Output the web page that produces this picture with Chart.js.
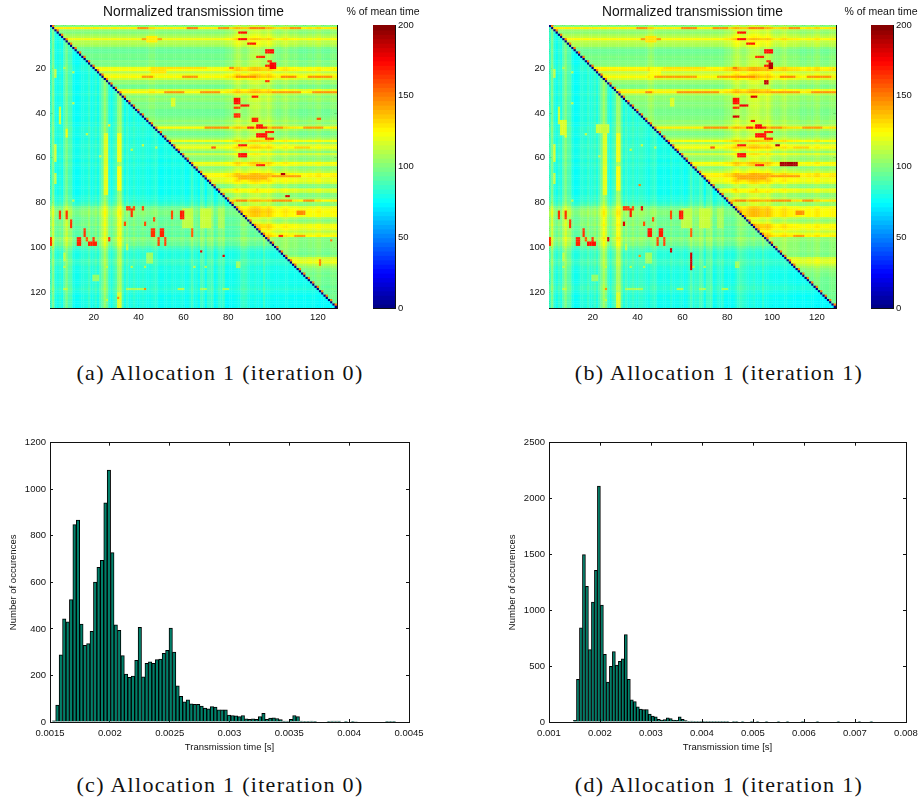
<!DOCTYPE html>
<html>
<head>
<meta charset="utf-8">
<script src="https://cdn.jsdelivr.net/npm/chart.js@4"></script>
<style>
  html, body { margin: 0; padding: 0; background: #fff; }
  #page { position: relative; width: 924px; height: 804px; overflow: hidden; }
  canvas { position: absolute; }
  #heatA, #heatB { filter: blur(0.45px); }
  .caption { position: absolute; font-family: "Liberation Serif", serif; font-size: 22px; letter-spacing: 1.3px; color: #111; white-space: nowrap; transform: translateX(-50%); }
</style>
</head>
<body>
<div id="page">
  <canvas id="heatA" width="345" height="335" style="left:0;top:0"></canvas>
  <canvas id="barA" width="80" height="320" style="left:343px;top:0"></canvas>
  <canvas id="heatB" width="345" height="335" style="left:499px;top:0"></canvas>
  <canvas id="barB" width="80" height="320" style="left:841px;top:0"></canvas>
  <canvas id="histC" width="450" height="330" style="left:0;top:430px"></canvas>
  <canvas id="histD" width="450" height="330" style="left:499px;top:430px"></canvas>
  <div class="caption" style="left:220px;top:360px">(a) Allocation 1 (iteration 0)</div>
  <div class="caption" style="left:719px;top:360px">(b) Allocation 1 (iteration 1)</div>
  <div class="caption" style="left:220px;top:772px">(c) Allocation 1 (iteration 0)</div>
  <div class="caption" style="left:719px;top:772px">(d) Allocation 1 (iteration 1)</div>
</div>
<script>
const heatTicks = [20, 40, 60, 80, 100, 120];
const colorbarTicks = [0, 50, 100, 150, 200];
const colorbarLevels = Array.from({ length: 64 }, (_, i) => (i + 0.5) * 200 / 64);

// row and column levels (% of mean)
const upperRowsA = [
  100,128,103,100,106,110,122,110,110,106,
  98,95,95,98,98,96,100,98,100,122,
  124,110,120,126,114,102,104,96,98,118,
  126,108,100,104,102,98,100,100,96,96,
  96,98,100,104,100,106,126,104,98,96,
  100,106,122,104,116,122,110,100,114,104,
  100,104,122,118,100,105,110,124,126,118,
  120,114,100,98,118,114,100,98,104,126,
  102,100,118,122,124,122,122,106,100,106,
  120,122,118,110,118,124,100,100,100,100,
  100,98,98,96,100,114,118,120,110,104,
  100,98,96,98,96,96,96,96,94,96,
  94,94,96,94,94,94,94,94];
const upperColsA = [
  0,0,0,0,0,0,0,0,0,0,0,0,0,0,0,0,0,0,0,0,
  0,0,0,0,0,0,0,0,0,0,0,0,0,0,0,0,0,0,0,0,
  0,0,0,0,3,3,3,0,0,0,0,0,0,0,0,0,0,0,0,0,
  0,0,0,0,0,0,0,0,0,0,0,0,0,0,0,0,0,0,2,3,
  3,5,9,12,12,8,6,6,9,12,13,14,14,13,10,9,10,13,10,6,
  4,2,2,4,6,7,4,2,3,3,2,0,0,0,0,2,2,0,2,4,
  4,0,0,0,0,2,3,2];
const lowerColsA = [
  86,98,80,78,82,78,90,98,88,88,
  78,76,76,78,80,80,80,86,78,80,
  84,78,86,94,104,96,82,78,84,88,
  102,106,88,78,84,78,80,84,80,78,
  80,82,80,78,78,80,82,82,77,76,
  77,78,78,77,80,78,78,78,80,80,
  76,77,80,86,78,80,76,86,84,75,
  84,84,86,75,78,84,82,86,75,75,
  76,76,77,78,78,84,86,84,80,78,
  78,80,78,78,77,86,78,78,77,77,
  76,76,77,77,77,78,77,76,76,76,
  76,76,76,76,76,76,77,77,76,76,
  75,75,76,75,75,75,75,75];
const lowerRowsA = [
  0,0,0,0,0,0,0,0,0,0,0,0,0,0,0,0,0,0,2,3,
  2,0,0,0,0,0,0,0,0,0,0,2,0,0,0,0,0,0,0,0,
  0,0,0,0,2,0,3,3,2,2,2,0,2,2,3,3,2,2,2,3,
  2,0,2,2,0,0,0,0,0,0,0,0,0,0,0,0,0,2,2,3,
  6,9,17,20,22,22,20,17,17,18,20,15,17,15,17,14,22,20,17,17,
  11,7,4,3,3,4,7,7,6,3,3,2,2,2,2,2,2,3,4,6,
  3,2,0,2,0,0,0,0];

// streaks both allocations share: [rowFrom, rowTo, colFrom, colTo, level]
const commonSpots = [
  [38,45,5,5,114],[48,51,8,8,122],[55,62,3,3,116],[50,65,25,26,118],[50,62,31,32,122],[46,46,27,27,128],[36,36,11,11,112],[50,50,17,17,112],
  [55,55,42,42,114],[56,56,48,48,112],[57,57,37,37,114],[60,60,23,23,112],[21,24,3,3,112],[22,22,11,11,110],[20,20,7,7,110],
  [68,72,3,3,112],[65,77,25,26,120],[65,75,31,32,124],[80,80,11,11,110],[110,110,7,7,112],[104,107,7,7,112],[110,110,26,26,112],
  [100,102,35,35,112],[110,110,37,37,112],[110,110,43,43,110],[110,110,65,65,112],[110,110,70,70,110],[122,128,31,32,118],[125,125,26,26,112],
  [120,120,7,8,112],[120,120,35,42,108],[120,120,58,60,110],[120,120,68,70,108],[120,120,78,80,108],[114,116,20,22,104],[104,108,44,46,106],
  [84,92,60,64,112],[84,92,68,72,114],[84,92,76,78,108],[108,110,84,85,106],
  [2,2,40,44,146],[2,2,90,96,150],[2,2,108,112,146],[24,24,84,92,148],[24,24,104,110,148],[24,24,116,126,146],
  [31,31,68,76,146],[31,31,100,112,144],[31,31,118,128,146],[47,47,100,104,146],[47,47,114,122,144],[69,69,100,112,144],
  [80,80,84,88,148],[80,80,100,108,146],[80,80,114,118,146],[96,96,110,114,144],[56,56,110,116,134],[20,20,52,70,130]
];

// hot spots in (a), same format
const spotsA = [
  [2,2,62,66,150],[2,2,76,80,146],[7,7,42,50,142],[6,8,44,48,128],[20,22,46,52,130],[24,24,60,66,146],[24,24,42,46,144],
  [34,37,55,56,118],[47,47,70,80,146],[56,56,73,74,158],[31,31,52,60,146],[69,70,85,97,140],[75,75,85,92,124],[75,75,94,99,124],
  [4,4,85,88,172],[7,7,85,88,172],[9,9,89,92,170],[12,13,97,100,172],[15,15,93,96,166],[17,17,98,99,166],[18,20,99,101,176],[19,19,97,98,170],
  [20,20,81,82,150],[26,26,97,98,166],[34,36,83,85,172],[37,37,86,89,170],[38,38,83,85,162],[33,33,91,93,170],[41,42,83,85,166],
  [43,44,91,93,168],[46,47,93,95,172],[47,47,96,97,166],[47,47,89,91,166],[49,49,97,100,168],[50,51,93,97,172],[52,52,97,100,166],
  [55,55,85,88,170],[59,60,85,88,172],[64,64,93,96,168],[43,43,120,121,158],[68,68,104,105,190],[78,78,106,107,185],
  [107,109,121,121,150],[85,86,111,114,148],[96,96,103,104,165],[98,98,126,126,150],
  [85,88,5,5,165],[85,88,8,8,165],[89,92,10,10,165],[93,96,16,16,165],[97,100,13,14,168],[97,98,17,17,158],[99,100,18,21,168],[97,98,20,20,165],
  [97,100,1,1,165],[97,98,27,27,165],[83,84,35,36,165],[84,87,37,37,165],[83,84,38,38,160],[83,84,42,42,162],[90,91,34,34,160],[90,91,43,43,160],
  [88,89,47,47,160],[93,96,46,47,165],[93,96,50,51,168],[97,100,49,49,162],[97,100,52,52,162],[85,88,55,55,160],[85,88,59,60,170],[93,96,64,64,156],
  [103,103,68,68,180],[105,105,78,78,180],[120,120,43,43,148],[124,124,31,31,148]
];

// same readings for panel (b)
const upperRowsB = [
  100,128,105,102,108,112,124,112,110,108,
  100,96,96,98,100,98,100,100,102,126,
  128,112,118,126,116,104,104,98,100,120,
  128,110,102,104,102,100,102,100,98,98,
  98,100,100,104,102,108,128,106,100,98,
  102,108,124,106,118,124,112,102,116,106,
  102,106,124,120,100,106,112,126,128,120,
  122,116,102,100,120,116,102,100,106,128,
  104,102,120,124,124,124,124,108,102,108,
  122,124,120,112,120,126,102,102,100,100,
  100,100,100,98,100,114,118,118,112,106,
  102,100,98,98,96,96,96,96,96,96,
  96,94,96,94,94,94,94,94];
const upperColsB = [
  0,0,0,0,0,0,0,0,0,0,0,0,0,0,0,0,0,0,0,0,
  0,0,0,0,0,0,0,0,0,0,0,0,0,0,0,0,0,0,0,0,
  0,0,0,0,4,6,4,0,0,0,0,0,0,0,0,0,0,0,0,0,
  0,0,0,0,0,0,0,0,0,0,0,0,0,0,0,0,0,0,3,4,
  4,6,10,13,13,9,7,7,10,13,14,15,15,14,11,10,11,14,11,7,
  4,3,3,5,7,8,4,3,3,3,3,2,0,0,0,2,2,0,3,5,
  4,0,0,0,0,2,3,2];
const lowerColsB = [
  86,98,82,78,84,80,92,100,90,90,
  80,76,76,78,82,82,80,86,80,82,
  86,80,88,96,106,98,84,78,86,90,
  106,106,90,80,86,80,82,86,82,80,
  84,84,82,80,78,82,84,84,78,77,
  78,78,78,77,82,78,78,78,80,80,
  76,78,82,88,80,84,82,88,86,76,
  86,86,88,76,78,82,80,84,76,76,
  77,76,77,80,84,86,84,82,80,78,
  80,82,78,78,77,84,78,78,77,77,
  76,76,76,77,77,78,77,76,76,75,
  75,75,76,76,75,76,76,76,75,75,
  74,74,75,74,74,74,74,74];
const lowerRowsB = [
  0,0,0,0,0,0,0,0,0,0,0,0,0,0,0,0,0,0,2,3,
  2,0,0,0,0,0,0,0,0,0,0,2,0,0,0,0,0,0,0,0,
  0,0,0,0,2,0,3,3,2,2,2,0,2,2,3,3,2,2,2,3,
  2,0,2,2,0,0,0,0,0,0,0,0,0,0,0,0,0,2,2,3,
  6,9,17,21,23,23,21,18,18,19,21,16,18,16,18,15,23,21,18,18,
  12,8,5,4,4,5,7,8,7,4,3,2,2,2,2,2,2,4,6,6,
  3,2,0,2,0,0,0,0];
const spotsB = [
  [2,2,60,66,148],[2,2,74,80,146],[7,7,42,50,144],[6,8,44,48,130],[20,24,46,50,124],[24,24,48,66,144],[24,24,76,84,144],
  [34,37,55,56,118],[47,47,70,80,146],[56,56,73,74,158],[31,31,44,46,148],[31,31,58,70,146],[69,70,85,97,142],[75,75,85,92,124],[75,75,94,99,124],
  [44,50,6,8,118],[46,49,22,27,114],
  [4,4,85,88,172],[7,7,85,88,172],[9,9,89,92,170],[12,13,97,100,172],[15,15,93,96,166],[17,17,98,99,166],[18,20,99,100,190],[19,19,97,98,172],
  [20,20,83,84,150],[26,27,97,98,188],[34,36,83,85,172],[37,37,86,89,178],[38,38,83,85,166],[33,33,91,93,182],[42,42,83,85,184],
  [44,44,91,92,172],[46,47,93,95,176],[47,47,96,97,168],[47,47,89,91,168],[49,49,97,100,168],[50,51,93,97,172],[52,52,97,100,168],
  [55,55,85,88,170],[55,55,102,103,190],[59,60,85,88,172],[64,64,93,96,168],[63,64,104,111,192],[85,86,111,114,146],
  [85,88,5,5,165],[85,88,8,8,165],[89,92,10,10,165],[93,96,16,16,165],[97,100,13,14,168],[97,98,17,17,158],[99,100,18,21,172],[97,98,20,20,165],
  [97,100,1,1,165],[97,98,27,27,185],[83,84,34,36,165],[84,87,37,37,170],[83,84,38,38,160],[83,84,42,42,180],[90,91,34,34,182],[90,91,43,43,160],
  [88,89,47,47,160],[93,96,45,46,170],[93,96,50,51,170],[97,100,49,49,162],[97,100,52,52,162],[85,88,55,55,160],[85,88,59,60,170],[93,96,64,64,156],
  [102,103,55,55,185],[104,111,64,64,185],[73,73,41,41,150],[105,105,41,41,146],[120,120,26,26,146]
];

// histogram counts, one per bin
const countsC = [
  5,73,289,443,430,526,848,868,421,329,
  337,390,601,664,695,942,1082,728,417,394,
  285,206,192,197,265,407,194,252,258,252,
  268,270,295,308,404,300,155,110,87,95,
  78,76,76,68,60,57,66,64,52,52,
  52,30,28,26,23,28,14,11,14,11,
  23,37,11,17,18,15,10,4,4,11,
  28,23,4,1,1,4,1,0,0,0,
  3,4,4,4,0,3,0,1,2,0,
  0,0,0,0,0,0,0,1,1,1];
const countsD = [
  15,383,843,1498,1215,649,1074,1357,2112,1047,
  605,357,498,631,510,543,566,782,383,198,
  183,136,115,112,112,71,53,47,24,18,
  21,38,30,18,15,47,24,12,6,9,
  6,3,6,6,3,2,1,2,1,1,
  2,1,0,1,1,0,1,0,0,1,
  0,1,0,0,1,0,0,0,1,0,
  0,1,0,0,0,0,1,0,0,0,
  0,1,0,0,0,0,0,0,1,0,
  0,0,0,0,0,1,0,0,0,1];
const binStartC = 0.001533, binWidthC = 0.0000287;
const binStartD = 0.001509, binWidthD = 0.0000587;
const xTicksC = [0.0015, 0.002, 0.0025, 0.003, 0.0035, 0.004, 0.0045];
const yTicksC = [0, 200, 400, 600, 800, 1000, 1200];
const xTicksD = [0.001, 0.002, 0.003, 0.004, 0.005, 0.006, 0.007, 0.008];
const yTicksD = [0, 500, 1000, 1500, 2000, 2500];

const FONT = '"Liberation Sans", Arial, sans-serif';
const TEXT = '#111';

function jet(v) {
    const t = Math.max(0, Math.min(1, v / 200));
    const ch = x => Math.round(255 * Math.max(0, Math.min(1, x)));
    return `rgb(${ch(Math.min(4 * t - 1.5, 4.5 - 4 * t))},${ch(Math.min(4 * t - 0.5, 3.5 - 4 * t))},${ch(Math.min(4 * t + 0.5, 2.5 - 4 * t))})`;
}

// one axis: black edge, short inward ticks, fixed thickness so the plot box lands where it should
function edgeAxis(position, size, ticks, min, max, extra) {
    const horizontal = position === 'top' || position === 'bottom';
    return Object.assign({
        type: 'linear',
        position,
        min,
        max,
        offset: false,
        border: { display: true, color: '#111', width: 1 },
        grid: { drawOnChartArea: false, offset: false, color: '#111', tickLength: -3, tickWidth: 1 },
        afterBuildTicks: scale => { scale.ticks = ticks.map(value => ({ value })); },
        afterFit: scale => { if (horizontal) scale.height = size; else scale.width = size; },
        ticks: { display: false, autoSkip: false, maxRotation: 0 }
    }, extra || {});
}

function labelled(padding, size) {
    return {
        display: true, autoSkip: false, maxRotation: 0, padding, color: TEXT,
        font: { family: FONT, size },
        callback: v => String(v)
    };
}

function drawHeat(id, upperRows, upperCols, lowerCols, lowerRows, ownSpots) {
    const spots = commonSpots.concat(ownSpots);
    const points = [];
    const colors = [];
    for (let r = 1; r <= 128; r++) {
        for (let c = 1; c <= 128; c++) {
            let v = c > r ? upperRows[r - 1] + upperCols[c - 1] : lowerCols[c - 1] + lowerRows[r - 1];
            for (const s of spots) {
                if (r >= s[0] && r <= s[1] && c >= s[2] && c <= s[3]) v = s[4];
            }
            if (c === r + 1 && r % 2 === 1) v = 150; // the nodes pair up next to the diagonal
            if (r === c) v = 0;
            points.push({ x: c, y: r });
            colors.push(jet(v));
        }
    }
    new Chart(document.getElementById(id), {
        type: 'scatter',
        data: {
            datasets: [{
                data: points,
                xAxisID: 'x',
                yAxisID: 'yCells',
                pointStyle: 'rect',
                pointRadius: 1.78,
                pointBorderWidth: 0,
                pointBackgroundColor: colors,
                clip: 0
            }]
        },
        options: {
            responsive: false,
            animation: false,
            events: [],
            parsing: false,
            normalized: true,
            plugins: { legend: { display: false }, tooltip: { enabled: false } },
            scales: {
                x: edgeAxis('bottom', 27, heatTicks, 0.5, 128.5, { ticks: labelled(7, 9.5) }),
                xTop: edgeAxis('top', 25, heatTicks, 0.5, 128.5, {
                    title: { display: true, text: 'Normalized transmission time', color: TEXT, font: { family: FONT, size: 13.8 }, padding: { top: 4, bottom: 0 } }
                }),
                yCells: { type: 'linear', display: false, reverse: true, min: 0.5, max: 128.5 },
                y: edgeAxis('left', 50, heatTicks, 0.62, 127.16, { reverse: true, ticks: labelled(7, 9.5) }),
                yRight: edgeAxis('right', 8, heatTicks, 0.62, 127.16, { reverse: true })
            }
        }
    });
}

function drawColorbar(id) {
    new Chart(document.getElementById(id), {
        type: 'bar',
        data: {
            datasets: [{
                data: colorbarLevels.map(y => ({ x: 1, y })),
                backgroundColor: colorbarLevels.map(jet),
                barPercentage: 1,
                categoryPercentage: 1,
                inflateAmount: 1
            }]
        },
        options: {
            indexAxis: 'y',
            responsive: false,
            animation: false,
            events: [],
            plugins: {
                legend: { display: false },
                tooltip: { enabled: false },
                title: { display: true, text: '% of mean time', color: TEXT, font: { family: FONT, size: 10.5, weight: 'normal' }, padding: { top: 6, bottom: 6.4 } }
            },
            scales: {
                x: edgeAxis('bottom', 12, [], 0, 1),
                xTop: edgeAxis('top', 0, [], 0, 1),
                y: edgeAxis('left', 30, [], 0, 200),
                yRight: edgeAxis('right', 28, colorbarTicks, 0, 200, { ticks: labelled(6, 9.5) })
            }
        }
    });
}

function drawHist(id, counts, binStart, binWidth, xTicks, yTicks, xMin, xMax, yMax, rightSize) {
    new Chart(document.getElementById(id), {
        type: 'bar',
        data: {
            datasets: [{
                data: counts.map((y, i) => ({ x: binStart + i * binWidth, y })),
                backgroundColor: '#00806a',
                borderColor: '#000',
                borderWidth: 1,
                barPercentage: 1,
                categoryPercentage: 1
            }]
        },
        options: {
            responsive: false,
            animation: false,
            events: [],
            plugins: { legend: { display: false }, tooltip: { enabled: false } },
            scales: {
                x: edgeAxis('bottom', 38, xTicks, xMin, xMax, {
                    ticks: labelled(9, 9.5),
                    title: { display: true, text: 'Transmission time [s]', color: TEXT, font: { family: FONT, size: 9.5 }, padding: { top: 7, bottom: 7 } }
                }),
                xTop: edgeAxis('top', 10, xTicks, xMin, xMax),
                y: edgeAxis('left', 50, yTicks, 0, yMax, {
                    ticks: labelled(7, 9.5),
                    title: { display: true, text: 'Number of occurences', color: TEXT, font: { family: FONT, size: 9.5 }, padding: { top: 8, bottom: 0 } }
                }),
                yRight: edgeAxis('right', rightSize, yTicks, 0, yMax)
            }
        }
    });
}

drawHeat('heatA', upperRowsA, upperColsA, lowerColsA, lowerRowsA, spotsA);
drawHeat('heatB', upperRowsB, upperColsB, lowerColsB, lowerRowsB, spotsB);
drawColorbar('barA');
drawColorbar('barB');
drawHist('histC', countsC, binStartC, binWidthC, xTicksC, yTicksC, 0.0015, 0.0045, 1200, 41);
drawHist('histD', countsD, binStartD, binWidthD, xTicksD, yTicksD, 0.001, 0.008, 2500, 43);
</script>
</body>
</html>
